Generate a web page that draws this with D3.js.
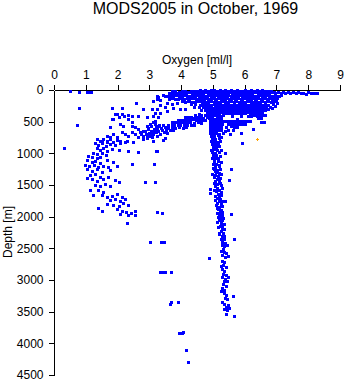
<!DOCTYPE html>
<html><head><meta charset="utf-8">
<script src="https://cdn.jsdelivr.net/npm/d3@7"></script>
<style>
html,body{margin:0;padding:0;background:#fff;}
svg{display:block;font-family:"Liberation Sans",Arial,sans-serif;}
</style></head>
<body>
<svg id="chart" width="345" height="384"></svg>
<script>
const chartTitle = "MODS2005 in October, 1969";
const xLabel = "Oxygen [ml/l]";
const yLabel = "Depth [m]";
const xTicks = [0,1,2,3,4,5,6,7,8,9];
const yTicks = [0,500,1000,1500,2000,2500,3000,3500,4000,4500];

// [oxygen ml/l, depth m]
const surfaceLeft = [[0.50,11],[0.79,26],[1.03,26],[1.10,32],[1.16,30],[0.79,289],[0.71,553],[0.33,915]];

const surfaceRight = [[7.06,38],[7.13,55],[7.20,33],[7.28,50],[7.36,30],[7.44,54],[7.52,38],[7.60,47],[7.68,32],[7.76,52],[7.84,40],[7.92,56],[8.00,36],[8.08,48],[8.16,42],[8.24,53],[8.29,44],[7.08,95],[7.15,80],[7.02,120],[6.98,160],[7.01,205],[6.94,245],[6.86,290],[6.74,302],[6.64,392],[6.56,505],[6.27,615],[5.88,680],[5.91,840]];

const surfaceBlob = [
[4.31,12],[4.40,8],[4.49,14],[4.58,6],[4.67,10],[4.76,4],[4.85,12],[4.94,7],[5.03,3],[5.12,11],[5.21,5],[5.30,9],[5.39,2],[5.48,13],[5.57,6],[5.66,10],[5.75,4],[5.84,8],[5.93,12],[6.02,5],[6.11,9],[6.20,3],[6.29,11],[6.38,7],[6.47,13],[6.56,6],[6.65,10],[6.74,14],
[3.72,22],[3.82,18],[3.92,25],[4.02,20],[4.12,16],[4.22,24],[6.82,20],[6.92,26],
[3.62,48],[3.71,42],[3.80,52],[3.89,45],[3.98,40],[4.07,50],[4.16,44],[4.25,38],[4.34,47],[4.43,53],[4.52,41],[4.61,46],[4.70,50],[4.79,39],[4.88,44],[4.97,52],[5.06,47],[5.15,40],[5.24,49],[5.33,43],[5.42,51],[5.51,38],[5.60,46],[5.69,42],[5.78,54],[5.87,45],[5.96,40],[6.05,48],[6.14,44],[6.23,52],[6.32,39],[6.41,47],[6.50,43],[6.59,50],[6.68,41],[6.77,46],[6.86,38],[6.95,44],
[3.58,95],[3.67,88],[3.76,92],[3.85,86],[3.94,97],[4.03,90],[4.12,84],[4.21,94],[4.30,89],[4.39,96],[4.48,85],[4.57,92],[4.66,88],[4.75,98],[4.84,86],[4.93,93],[5.02,90],[5.11,84],[5.20,95],[5.29,88],[5.38,92],[5.47,86],[5.56,97],[5.65,89],[5.74,93],[5.83,85],[5.92,96],[6.01,90],[6.10,87],[6.19,94],[6.28,88],[6.37,92],[6.46,85],[6.55,97],[6.64,90],[6.73,86],[6.82,94],[6.91,89],[7.00,92],
[3.62,138],[3.72,132],[3.81,140],[3.90,135],[3.99,128],[4.08,137],[4.17,131],[4.26,142],[4.35,134],[4.44,129],[4.53,139],[4.62,133],[4.71,136],[4.80,128],[4.89,141],[4.98,132],[5.07,137],[5.16,130],[5.25,139],[5.34,134],[5.43,128],[5.52,140],[5.61,133],[5.70,136],[5.79,129],[5.88,138],[5.97,132],[6.06,141],[6.15,134],[6.24,130],[6.33,137],[6.42,133],[6.51,139],[6.60,131],[6.69,136],[6.78,130],[6.87,140],[6.96,135],
[4.02,178],[4.12,184],[4.21,176],[4.30,182],[4.39,186],[4.48,175],[4.57,181],[4.66,177],[4.75,185],[4.84,179],[4.93,174],[5.02,183],[5.11,178],[5.20,186],[5.29,180],[5.38,175],[5.47,184],[5.56,179],[5.65,182],[5.74,176],[5.83,185],[5.92,178],[6.01,183],[6.10,174],[6.19,181],[6.28,187],[6.37,177],[6.46,183],[6.55,179],[6.64,185],[6.73,176],[6.82,182],[6.93,178],
[4.32,228],[4.45,222],[4.58,230],[4.67,224],[4.76,219],[4.85,227],[4.94,232],[5.03,221],[5.12,228],[5.21,224],[5.30,231],[5.39,220],[5.48,226],[5.57,229],[5.66,222],[5.75,230],[5.84,225],[5.93,219],[6.02,227],[6.11,232],[6.20,223],[6.29,228],[6.38,221],[6.47,226],[6.56,231],[6.65,224],[6.74,229],[6.90,222],
[4.40,272],[4.55,268],[4.70,275],[4.79,266],[4.88,271],[4.97,277],[5.06,265],[5.15,273],[5.24,269],[5.33,276],[5.42,264],[5.51,271],[5.60,267],[5.69,274],[5.78,270],[5.87,265],[5.96,276],[6.05,269],[6.14,273],[6.23,266],[6.32,272],[6.41,268],[6.50,275],[6.59,270],[6.68,264],[6.80,272],
[4.12,300],[4.62,318],[4.74,312],[4.85,320],[4.94,309],[5.03,316],[5.12,322],[5.21,311],[5.30,317],[5.39,313],[5.48,321],[5.57,310],[5.66,316],[5.75,319],[5.84,312],[5.93,318],[6.02,308],[6.11,315],[6.20,321],[6.29,311],[6.38,317],[6.47,313],[6.56,320],[6.65,309],
[4.82,362],[4.92,356],[5.01,365],[5.10,358],[5.19,363],[5.28,355],[5.37,361],[5.46,367],[5.55,357],[5.64,362],[5.73,356],[5.82,365],[5.91,359],[6.00,363],[6.09,354],[6.18,361],[6.27,366],[6.36,358],[6.45,363],[6.55,357]
];

const mixedLayer = [
[4.86,405],[4.95,410],[5.04,402],[5.13,408],[5.22,412],[5.31,400],[5.60,406],[5.90,410],[6.12,403],[6.21,408],[6.30,401],[6.39,411],[6.48,404],[6.57,398],
[4.88,446],[4.97,440],[5.06,450],[5.15,443],[5.24,448],[5.75,452],[6.42,442],[6.51,448],
[4.90,492],[4.99,486],[5.08,495],[5.17,489],[5.26,493],[5.35,484],[5.44,497],[5.53,490],[5.62,486],[5.71,494],[5.80,488],[5.89,496],[5.98,490],[6.07,485],[6.16,493],[6.50,505],[6.62,510],
[4.92,536],[5.01,531],[5.10,540],[5.19,534],[5.28,538],[5.46,530],[5.55,539],[5.64,533],[5.73,541],[5.82,536],[5.91,530],[6.00,538],
[4.91,582],[5.00,577],[5.09,585],[5.18,579],[5.27,584],[5.40,590],[5.58,575],[5.68,582],[5.77,588],
[4.90,628],[4.99,634],[5.08,625],[5.17,632],[5.26,627],[5.38,640],[5.48,625],[5.62,635],
[4.92,676],[5.01,684],[5.10,679],[5.20,688],[5.33,672],[5.55,700]
];

const intermediateBand = [
[4.45,392],[4.55,386],[4.64,395],[4.74,388],
[4.12,428],[4.22,434],[4.31,426],[4.41,437],[4.50,430],[4.60,425],[4.70,436],[4.80,430],
[3.90,468],[4.00,474],[4.09,466],[4.19,478],[4.28,470],[4.38,465],[4.47,476],[4.57,471],[4.66,480],[4.76,468],
[3.72,512],[3.81,506],[3.91,515],[4.00,508],[4.10,518],[4.20,510],[4.29,505],[4.40,516],[4.52,508],[4.62,520],
[3.60,552],[3.70,546],[3.79,556],[3.89,549],[3.98,560],[4.08,552],[4.18,546],[4.30,558],[4.42,550],
[3.50,590],[3.60,596],[3.70,586],[3.80,598],[3.92,590],[4.05,600],[4.15,585],
[3.40,632],[3.52,626],[3.64,638],[3.76,630],
[3.42,548],[3.30,560],[3.36,600],[3.22,590],[3.28,640],[3.14,620],[3.20,670],[3.06,650],[3.10,700],[2.98,680],[3.00,730],[2.88,700],[2.92,760],[2.80,730],[2.74,690],[3.45,670],[3.35,700],[3.25,720],[2.86,640],[2.95,600],[3.05,565],[3.18,535],[3.48,760],[3.56,680]
];

const upperArm = [
[2.80,300],[2.93,425],[3.12,410],[3.28,110],[3.50,95],[3.34,240],[3.50,270],[3.70,220],[3.96,300],[3.12,170],[3.24,140],[1.82,285],[2.13,285],[3.08,300],[1.86,460],[1.98,380],[2.20,410],[2.33,460],[2.45,500],[2.65,410],[2.92,425],[3.24,300],[2.08,535],[2.17,570],[1.76,585],[2.45,570],[2.55,585],[2.65,615],[2.92,570],[3.02,535],[3.12,505],[3.18,490],[3.27,425],[2.80,650],[2.96,615],[3.02,695],[3.12,650],[3.24,615],[3.27,570],[1.67,725],[1.76,740],[1.54,775],[1.51,820],[1.86,695],[1.98,740],[2.14,665],[2.23,695],[2.33,725],[2.45,665],[2.55,695],[2.65,740],[2.71,665],[2.80,775],[2.92,725],[3.08,740],[3.12,805],[2.08,805],[2.30,805],[2.49,820],[1.67,820],[2.57,200],
[3.23,95],[3.44,79],[3.34,158],[3.55,211],[3.86,200],[3.18,368],[3.34,358],[3.55,326],[3.76,289],[1.92,384],[2.15,384],[2.32,395],[2.44,410],[1.84,463],[2.03,432]
];

const lowerArm = [
[1.34,779],[1.45,805],[1.55,779],[1.66,805],[1.76,779],[1.87,816],[1.97,789],[1.29,842],[1.40,868],[1.50,842],[1.64,884],[1.76,853],[1.92,868],[2.08,842],[2.24,816],[1.34,921],[1.45,947],[1.55,921],[1.66,958],[1.82,937],[2.03,947],[2.34,958],[1.24,990],[1.36,1010],[1.50,1000],[1.64,1026],[1.08,1042],[1.19,1063],[1.34,1079],[1.45,1053],[1.03,1105],[1.19,1132],[1.29,1116],[1.45,1147],[1.66,1105],[1.87,1132],
[0.98,1184],[1.11,1200],[1.26,1184],[1.40,1210],[1.55,1200],[1.71,1221],[1.97,1200],[1.03,1252],[1.19,1274],[1.34,1252],[1.50,1289],[1.76,1263],[1.13,1342],[1.29,1326],[1.45,1368],[1.05,1395],[1.21,1410],[1.36,1431],[1.55,1410],[1.71,1379],[1.92,1421],[2.03,1447],[1.29,1500],[1.45,1516],[1.60,1484],[1.76,1516],[1.40,1579],[1.55,1605],[1.13,1579],[1.24,1658],
[1.50,1658],[1.66,1684],[1.82,1674],[1.97,1642],[2.13,1684],[1.76,1737],[1.92,1726],[2.08,1747],[2.24,1716],[1.66,1800],[1.87,1816],[2.03,1832],[2.18,1779],[2.34,1816],[1.40,1868],[1.50,1905],[1.97,1884],[2.13,1905],[2.27,1921],[2.41,1937],[2.55,1910],[2.08,1958],[2.34,1974],[2.55,1974],[2.29,2105]
];

const deepColumn = [
[4.95,720],[5.05,730],[5.15,715],[5.25,740],[4.98,765],[5.08,775],[5.20,760],[4.93,810],[5.03,805],[5.13,820],[5.22,800],[4.97,850],[5.07,860],[5.17,845],[5.00,895],[5.10,900],[5.20,890],[4.94,940],[5.04,935],[5.14,950],[5.24,945],[4.98,985],[5.08,990],[5.18,980],[5.01,1030],[5.11,1025],[5.21,1040],[4.96,1075],[5.06,1080],[5.16,1070],[5.05,1120],[5.15,1115],[5.25,1130],[5.00,1165],[5.10,1170],[5.08,1210],[5.18,1205],[5.04,1250],[5.14,1260],[5.10,1300],[5.20,1310],[5.06,1345],[5.16,1360],[5.12,1400],[5.22,1395],[5.08,1440],[5.18,1450],[5.14,1490],[5.24,1500],[5.12,1540],[5.20,1585],[5.10,1600],[5.16,1640],[5.25,1660],[5.14,1700],[5.22,1720],[5.18,1760],[5.12,1790],[5.24,1800],[5.20,1840],[5.15,1880],[5.26,1890],[5.22,1930],[5.18,1960],[5.28,1975],[5.24,2010],[5.20,2050],[5.30,2060],[5.26,2100],[5.22,2140],[5.30,2150],[5.28,2190],[5.24,2230],[5.32,2250],[5.20,2275],[5.28,2300],[5.36,2310],[5.26,2345],[5.34,2360],[5.30,2400],[5.38,2420],[5.28,2450],[5.36,2470],[5.32,2510],[5.26,2540],[5.34,2560],[5.40,2580],[5.30,2610],[5.38,2640],[5.28,2700],[5.35,2720],[5.32,2760],[5.40,2790],[5.30,2830],[5.36,2860],[5.33,2900],[5.42,2920],[5.30,2950],[5.38,2980],[5.34,3010],[5.44,3020],[5.32,3060],[5.40,3090],[5.28,3130],[5.36,3160],[5.34,3200],[5.42,3230],[5.38,3280],[5.45,3300],[5.30,3340],[5.36,3380],[5.48,3390],[5.40,3420],[5.34,3460],[5.44,3480],
[5.02,1150],[5.20,1180],[5.00,1230],[5.22,1240],[5.06,1280],[4.98,1320],[5.24,1330],[5.02,1380],[5.20,1420],[5.04,1470],[5.22,1470],[5.06,1520],[5.28,1550],[5.02,1580],[5.24,1610],[5.08,1670],[5.20,1690],[5.06,1740],[5.28,1750],[5.10,1820],[5.30,1830],[5.12,1860],[5.28,1920],[5.14,1940],[5.16,2000],[5.32,2020],[5.14,2080],[5.34,2110],[5.16,2170],[5.36,2200],[5.18,2260],[5.44,2440],[5.46,2620],[5.24,2780],[5.48,2960],[5.24,3180],[5.50,3440],[5.40,3530]
];

const columnScatter = [[5.38,995],[5.57,1250],[5.51,1420],[5.38,1750],[5.57,1960],[5.66,2355],[4.88,2655],[5.63,3250],[5.66,3570],[4.90,1560],[4.92,1620]];

const deepLeft = [[3.02,2405],[3.37,2395],[3.46,2400],[3.34,2875],[3.42,2870],[3.50,2870],[3.69,2875],[3.65,3380],[3.68,3352],[3.90,3352],[3.94,3842],[4.02,3832],[4.07,3826],[4.15,4105],[4.23,4300],[3.24,1920],[3.40,1935],[3.43,790],[3.21,963],[3.15,1168],[3.18,1453],[2.86,1447],[3.23,958],[2.44,1168],[2.65,974]];

const flaggedPoint = [[6.38,775]];

const svg = d3.select("#chart");
const x = d3.scaleLinear().domain([0,9]).range([54,340]);
const y = d3.scaleLinear().domain([0,4500]).range([90,375]);

svg.append("text").attr("x",195.5).attr("y",13.5).attr("text-anchor","middle")
  .attr("font-size",16).attr("fill","#000").text(chartTitle);

const xAxis = svg.append("g").attr("transform","translate(0,90)")
  .call(d3.axisTop(x).tickValues(xTicks).tickSize(5).tickSizeOuter(0).tickPadding(6).tickFormat(d3.format("d")));
const yAxis = svg.append("g").attr("transform","translate(54,0)")
  .call(d3.axisLeft(y).tickValues(yTicks).tickSize(5).tickSizeOuter(0).tickPadding(5.5).tickFormat(d3.format("d")));
[xAxis,yAxis].forEach(a=>{
  a.attr("font-family",null).attr("font-size",12);
  a.selectAll("path,line").attr("stroke","#000").attr("shape-rendering","crispEdges");
  a.selectAll("text").attr("fill","#000");
});

svg.append("text").attr("x",197).attr("y",64).attr("text-anchor","middle")
  .attr("font-size",12).attr("fill","#000").text(xLabel);
svg.append("text").attr("transform","translate(12,232) rotate(-90)").attr("text-anchor","middle")
  .attr("font-size",12).attr("fill","#000").text(yLabel);

const blue = [].concat(surfaceLeft, surfaceRight, surfaceBlob, mixedLayer, intermediateBand, upperArm, lowerArm, deepColumn, columnScatter, deepLeft);
svg.append("g").attr("shape-rendering","crispEdges").selectAll("rect").data(blue).join("rect")
  .attr("x", d=>Math.round(x(d[0]))-1).attr("y", d=>Math.round(y(d[1]))-1)
  .attr("width",3).attr("height",3).attr("fill","#0000ff");

const og = svg.append("g").attr("shape-rendering","crispEdges").selectAll("g").data(flaggedPoint).join("g");
og.append("rect").attr("x", d=>Math.round(x(d[0]))-1).attr("y", d=>Math.round(y(d[1]))).attr("width",3).attr("height",1).attr("fill","#ffa500");
og.append("rect").attr("x", d=>Math.round(x(d[0]))).attr("y", d=>Math.round(y(d[1]))-1).attr("width",1).attr("height",3).attr("fill","#ffa500");
</script>
</body></html>
